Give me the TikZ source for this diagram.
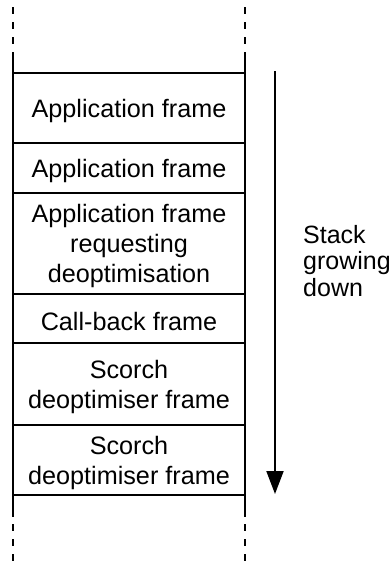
\documentclass[tikz,border=0pt]{standalone}
\usepackage{fontspec}
\setmainfont{Liberation Sans}
\usetikzlibrary{arrows.meta}
\begin{document}
\begin{tikzpicture}[x=1pt,y=-1pt,
  frame/.style={draw, line width=1.1pt, minimum width=232pt, inner sep=0pt},
  ftext/.style={align=center, inner sep=0pt, yshift=-2.5pt, font=\fontsize{25.2}{30}\selectfont},
  side/.style={line width=1.1pt},
  sidedash/.style={line width=1.1pt, dash pattern=on 7pt off 8pt},
  label/.style={align=left, anchor=base west, inner sep=0pt, font=\fontsize{25}{26.5}\selectfont}]
\useasboundingbox (0,0) rectangle (390,563);
% vertical stack borders
\coordinate (lt) at (13,7);
\coordinate (ls) at (13,52);
\coordinate (le) at (13,517);
\coordinate (lb) at (13,563);
\coordinate (rt) at (245,7);
\coordinate (rs) at (245,52);
\coordinate (re) at (245,517);
\coordinate (rb) at (245,563);
\draw[sidedash] (lt) -- (ls);
\draw[sidedash] (rt) -- (rs);
\draw[side] (ls) -- (le);
\draw[side] (rs) -- (re);
\draw[sidedash, dash phase=-7pt] (le) -- (lb);
\draw[sidedash, dash phase=-7pt] (re) -- (rb);
% frames
\node[frame, minimum height=70pt] (f1) at (129,108) {};
\node[frame, minimum height=50pt] (f2) at (129,168) {};
\node[frame, minimum height=101pt] (f3) at (129,243.5) {};
\node[frame, minimum height=49pt] (f4) at (129,318.5) {};
\node[frame, minimum height=82pt] (f5) at (129,384) {};
\node[frame, minimum height=70pt] (f6) at (129,460) {};
\node[ftext] (t1) at (f1.center) {Application frame};
\node[ftext] (t2) at (f2.center) {Application frame};
\node[ftext] (t3) at (f3.center) {Application frame\\requesting\\deoptimisation};
\node[ftext] (t4) at (f4.center) {Call-back frame};
\node[ftext] (t5) at (f5.center) {Scorch\\deoptimiser frame};
\node[ftext] (t6) at (f6.center) {Scorch\\deoptimiser frame};
% arrow
\coordinate (atop) at (275,71);
\coordinate (abot) at (275,494);
\draw[line width=2pt, -{Triangle[width=17pt,length=23pt]}] (atop) -- (abot);
\node[label] (lbl) at (303,296) {Stack\\growing\\down};
\end{tikzpicture}
\end{document}
